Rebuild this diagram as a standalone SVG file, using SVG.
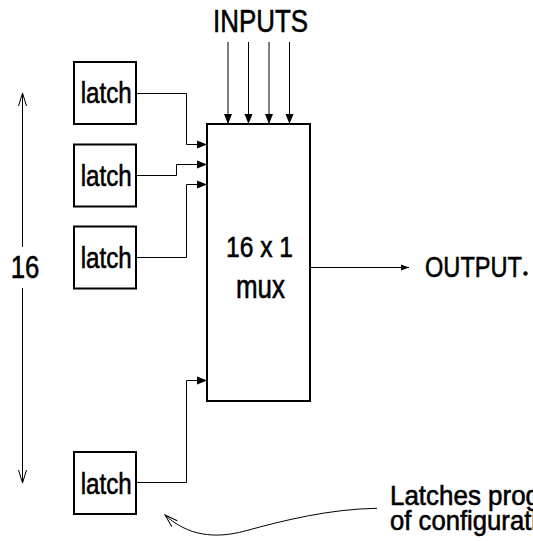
<svg xmlns="http://www.w3.org/2000/svg" width="533" height="541" viewBox="0 0 533 541">
<defs>
<style>
.box{fill:#fff;stroke:#000;stroke-width:2}
.wire{fill:none;stroke:#000;stroke-width:1}
.t{font-family:"Liberation Sans",Arial,sans-serif;fill:#000;stroke:#000;stroke-width:0.6}
</style>
<marker id="fa" markerUnits="userSpaceOnUse" markerWidth="10" markerHeight="10" viewBox="0 0 10 10" refX="10" refY="5" orient="auto">
<path d="M0 1 L10 5 L0 9 Z" fill="#000"/>
</marker>
<marker id="sa" markerUnits="userSpaceOnUse" markerWidth="8" markerHeight="8" viewBox="0 0 8 8" refX="8" refY="4" orient="auto">
<path d="M0 1 L8 4 L0 7 Z" fill="#000"/>
</marker>
<marker id="oa" markerUnits="userSpaceOnUse" markerWidth="14" markerHeight="10" viewBox="0 0 14 10" refX="13" refY="5" orient="auto">
<path d="M0 1 L13 5 L0 9" fill="none" stroke="#000" stroke-width="1"/>
</marker>
</defs>
<rect width="533" height="541" fill="#fff"/>
<g id="connectors">
<line class="wire" x1="228" y1="42" x2="228" y2="124" marker-end="url(#fa)"/>
<line class="wire" x1="248.5" y1="42" x2="248.5" y2="124" marker-end="url(#fa)"/>
<line class="wire" x1="269" y1="42" x2="269" y2="124" marker-end="url(#fa)"/>
<line class="wire" x1="289.5" y1="42" x2="289.5" y2="124" marker-end="url(#fa)"/>
<polyline class="wire" points="136,93.5 186.5,93.5 186.5,144.5 207,144.5" marker-end="url(#fa)"/>
<polyline class="wire" points="136,175.5 176.5,175.5 176.5,164.5 207,164.5" marker-end="url(#fa)"/>
<polyline class="wire" points="136,257.5 186.5,257.5 186.5,184.5 207,184.5" marker-end="url(#fa)"/>
<polyline class="wire" points="136,482.5 186.5,482.5 186.5,380.5 207,380.5" marker-end="url(#fa)"/>
<line class="wire" x1="310" y1="267.5" x2="409" y2="267.5" marker-end="url(#sa)"/>
<line class="wire" x1="22.5" y1="247" x2="22.5" y2="93" marker-end="url(#oa)"/>
<line class="wire" x1="22.5" y1="288" x2="22.5" y2="483" marker-end="url(#oa)"/>
<path class="wire" d="M377 508.3 C330 509,285 520,245 531 C215 539,188 536,165 515" marker-end="url(#oa)"/>
</g>
<g id="inputs-label"><text class="t" x="213" y="32" font-size="32" textLength="95" lengthAdjust="spacingAndGlyphs">INPUTS</text></g>
<g id="latch1"><rect class="box" x="74" y="62" width="62" height="62"/><text class="t" x="80.7" y="103.3" font-size="30" textLength="51" lengthAdjust="spacingAndGlyphs">latch</text></g>
<g id="latch2"><rect class="box" x="74" y="144.5" width="62" height="62"/><text class="t" x="80.7" y="186" font-size="30" textLength="51" lengthAdjust="spacingAndGlyphs">latch</text></g>
<g id="latch3"><rect class="box" x="74" y="226.5" width="62" height="62"/><text class="t" x="80.7" y="268" font-size="30" textLength="51" lengthAdjust="spacingAndGlyphs">latch</text></g>
<g id="latch4"><rect class="box" x="74" y="452" width="62" height="62"/><text class="t" x="80.7" y="493.5" font-size="30" textLength="51" lengthAdjust="spacingAndGlyphs">latch</text></g>
<g id="mux"><rect class="box" x="207" y="124" width="103" height="277"/>
<text class="t" x="226" y="257.3" font-size="29" textLength="67" lengthAdjust="spacingAndGlyphs">16 x 1</text>
<text class="t" x="236" y="298.3" font-size="33" textLength="49" lengthAdjust="spacingAndGlyphs">mux</text></g>
<g id="count-label"><text class="t" x="10.7" y="278.3" font-size="32" textLength="28.6" lengthAdjust="spacingAndGlyphs">16</text></g>
<g id="output-label"><text class="t" x="425" y="276.7" font-size="30" textLength="97" lengthAdjust="spacingAndGlyphs">OUTPUT</text><circle cx="525.5" cy="273.5" r="2.2" fill="#000"/></g>
<g id="note"><text class="t" x="390" y="505" font-size="28" textLength="150" lengthAdjust="spacingAndGlyphs">Latches prog</text>
<text class="t" x="390" y="530" font-size="28" textLength="147" lengthAdjust="spacingAndGlyphs">of configurati</text></g>
</svg>
